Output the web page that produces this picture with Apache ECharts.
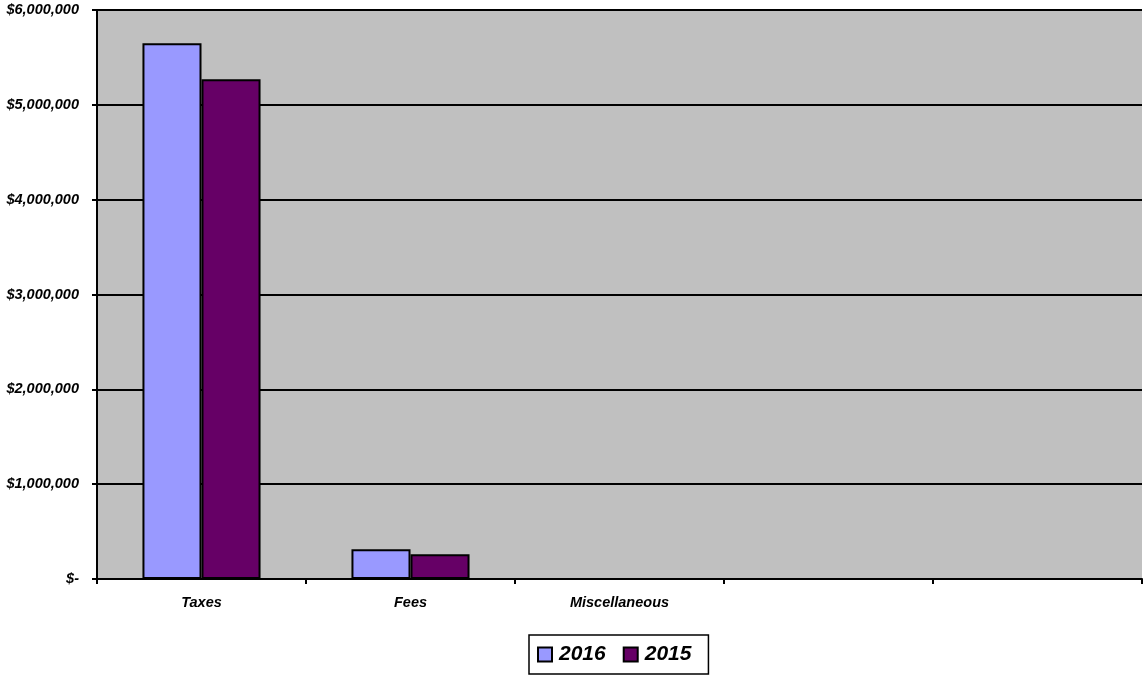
<!DOCTYPE html>
<html>
<head>
<meta charset="utf-8">
<script src="https://cdn.jsdelivr.net/npm/echarts@6/dist/echarts.min.js"></script>
<style>
html,body{margin:0;padding:0;background:#fff;}
#c{width:1144px;height:677px;}
</style>
</head>
<body>
<div id="c"></div>
<script>
var categories = ['Taxes', 'Fees', 'Miscellaneous', '', ''];
var seriesNames = ['2016', '2015'];
var values2016 = [5650000, 313000, 0, null, null];
var values2015 = [5270000, 260000, 0, null, null];
var yTicks = [0, 1000000, 2000000, 3000000, 4000000, 5000000, 6000000];

var FONT = '"Liberation Sans", Arial, sans-serif';
var chart = echarts.init(document.getElementById('c'));
function fmt(v) {
  if (v === 0) return '$-';
  return '$' + v.toLocaleString('en-US');
}
chart.setOption({
  animation: false,
  backgroundColor: '#ffffff',
  grid: {
    left: 97, right: 2, top: 10, bottom: 98,
    show: true, backgroundColor: '#C0C0C0', borderColor: '#000', borderWidth: 0
  },
  legend: {
    left: 529, top: 635,
    data: seriesNames,
    orient: 'horizontal',
    itemWidth: 14, itemHeight: 14, itemGap: 17,
    padding: [9, 17, 9, 8],
    borderColor: '#000', borderWidth: 1.5,
    icon: 'rect',
    textStyle: { fontFamily: FONT, fontSize: 21, fontWeight: 'bold', fontStyle: 'italic', color: '#000', padding: [0, 0, 0, 2] }
  },
  xAxis: {
    type: 'category',
    data: categories,
    axisLine: { lineStyle: { color: '#000', width: 2 } },
    axisTick: { show: true, length: 5, lineStyle: { color: '#000', width: 2 } },
    axisLabel: { margin: 16, fontFamily: FONT, fontSize: 14.5, fontWeight: 'bold', fontStyle: 'italic', color: '#000' },
    splitLine: { show: false }
  },
  yAxis: {
    type: 'value',
    min: yTicks[0], max: yTicks[yTicks.length - 1], interval: 1000000,
    axisLine: { show: true, lineStyle: { color: '#000', width: 2 } },
    axisTick: { show: true, length: 5, lineStyle: { color: '#000', width: 2 } },
    axisLabel: { margin: 18, formatter: fmt, fontFamily: FONT, fontSize: 14.5, fontWeight: 'bold', fontStyle: 'italic', color: '#000' },
    splitLine: { show: true, lineStyle: { color: '#000', width: 2 } }
  },
  series: [
    {
      name: seriesNames[0], type: 'bar', data: values2016,
      barGap: '0%', barCategoryGap: '43.5%',
      itemStyle: { color: '#9999FF', borderColor: '#000', borderWidth: 2 }
    },
    {
      name: seriesNames[1], type: 'bar', data: values2015,
      barGap: '0%', barCategoryGap: '43.5%',
      itemStyle: { color: '#660066', borderColor: '#000', borderWidth: 2 }
    }
  ]
});
</script>
</body>
</html>
